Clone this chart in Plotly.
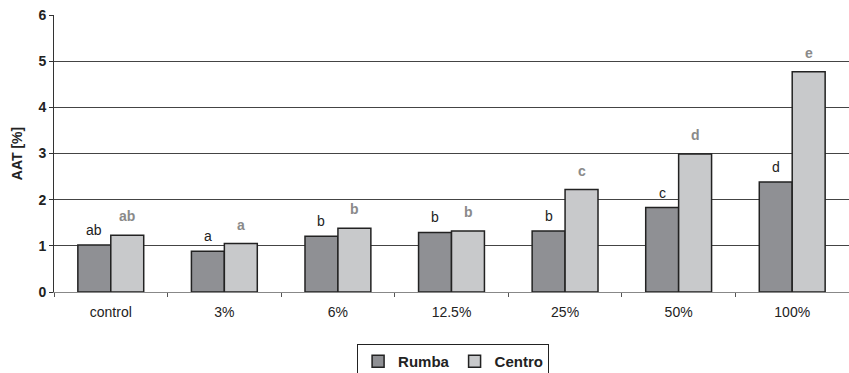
import plotly.graph_objects as go

categories = ["control", "3%", "6%", "12.5%", "25%", "50%", "100%"]
rumba = [1.02, 0.88, 1.21, 1.29, 1.32, 1.83, 2.38]
centro = [1.23, 1.05, 1.38, 1.32, 2.22, 2.99, 4.77]
rumba_letters = ["ab", "a", "b", "b", "b", "c", "d"]
centro_letters = ["ab", "a", "b", "b", "c", "d", "e"]

FONT = "Liberation Sans, Arial, sans-serif"
RUMBA_FILL = "#8f9094"
CENTRO_FILL = "#c8c9cb"
EDGE = "#222222"

fig = go.Figure()
fig.add_trace(go.Bar(name="<b>Rumba</b>", x=categories, y=rumba,
                     marker=dict(color=RUMBA_FILL, line=dict(color=EDGE, width=1.5))))
fig.add_trace(go.Bar(name="<b>Centro</b>", x=categories, y=centro,
                     marker=dict(color=CENTRO_FILL, line=dict(color=EDGE, width=1.5))))

# significance letters above each bar
annotations = []
for cat, v, t in zip(categories, rumba, rumba_letters):
    annotations.append(dict(x=cat, y=v, text=t, xref="x", yref="y", showarrow=False,
                            xshift=-16.5, yshift=5, yanchor="bottom",
                            font=dict(family=FONT, size=14, color="#222222")))
for cat, v, t in zip(categories, centro, centro_letters):
    annotations.append(dict(x=cat, y=v, text="<b>%s</b>" % t, xref="x", yref="y", showarrow=False,
                            xshift=16.5, yshift=9, yanchor="bottom",
                            font=dict(family=FONT, size=14, color="#8a8a8a")))

fig.update_layout(
    width=849, height=373,
    margin=dict(l=54, r=0, t=15, b=81),
    paper_bgcolor="white", plot_bgcolor="white",
    barmode="group", bargap=0.42, bargroupgap=0,
    font=dict(family=FONT, size=14, color="#222222"),
    annotations=annotations,
    showlegend=True,
    legend=dict(orientation="h", x=0.502, xanchor="center",
                yref="container", y=0.078, yanchor="top",
                bordercolor="#222222", borderwidth=1, bgcolor="white",
                font=dict(family=FONT, size=15, color="#222222"),
                itemwidth=30, tracegroupgap=0, traceorder="normal"),
)
fig.update_xaxes(type="category", showgrid=False, showline=True, linecolor="#888888", linewidth=1,
                 ticks="outside", tickson="boundaries", ticklen=4, tickcolor="#555555",
                 ticklabelstandoff=7,
                 tickfont=dict(family=FONT, size=14, color="#222222"))
fig.update_yaxes(range=[0, 6], dtick=1, showgrid=True, gridcolor="#444444", gridwidth=1,
                 showline=True, linecolor="#333333", linewidth=1, zeroline=False,
                 ticks="outside", ticklen=4, tickcolor="#333333",
                 tickfont=dict(family=FONT, size=14, color="#222222"), tickprefix="<b>", ticksuffix="</b>",
                 title=dict(text="<b>AAT [%]</b>", font=dict(family=FONT, size=14, color="#222222"), standoff=12))

fig.write_html("out.html")
